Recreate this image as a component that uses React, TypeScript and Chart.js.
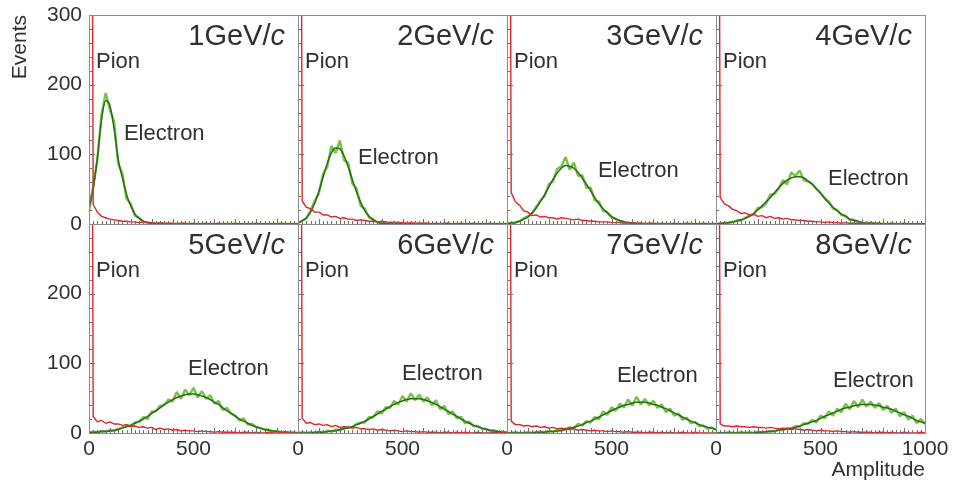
import { useEffect, useRef } from "react";
import { Chart, registerables } from "chart.js";

Chart.register(...registerables);

// ---------- data ----------
const AMPLITUDE = [0, 20, 40, 60, 80, 100, 120, 140, 160, 180, 200, 220, 240, 260, 280, 300, 320, 340, 360, 380, 400, 420, 440, 460, 480, 500, 520, 540, 560, 580, 600, 620, 640, 660, 680, 700, 720, 740, 760, 780, 800, 820, 840, 860, 880, 900, 920, 940, 960, 980, 1000];

const MOMENTUM_LABELS = ["1", "2", "3", "4", "5", "6", "7", "8"];

const ELECTRON_1 = [18, 55, 92, 158, 188, 164, 147, 86, 72, 36, 29, 12, 9, 3, 2, 1, 0, 1, 0, 0, 0, 0, 0, 0, 0, 0, 0, 0, 0, 0, 0, 0, 0, 0, 0, 0, 0, 0, 0, 0, 0, 0, 0, 0, 0, 0, 0, 0, 0, 0, 0];
const ELECTRON_2 = [1, 5, 8, 19, 33, 44, 72, 82, 112, 102, 120, 92, 88, 58, 51, 26, 22, 9, 7, 2, 2, 0, 1, 0, 0, 0, 0, 0, 0, 0, 0, 0, 0, 0, 0, 0, 0, 0, 0, 0, 0, 0, 0, 0, 0, 0, 0, 0, 0, 0, 0];
const ELECTRON_3 = [0, 2, 2, 4, 8, 11, 15, 25, 34, 40, 57, 61, 79, 83, 96, 78, 88, 69, 70, 52, 52, 34, 32, 19, 17, 9, 8, 4, 3, 1, 2, 0, 1, 0, 0, 0, 0, 0, 0, 0, 0, 0, 0, 0, 0, 0, 0, 0, 0, 0, 0];
const ELECTRON_4 = [0, 0, 2, 1, 3, 5, 5, 9, 12, 14, 23, 24, 30, 42, 43, 51, 63, 57, 74, 69, 77, 63, 61, 58, 50, 45, 37, 32, 22, 20, 13, 12, 6, 6, 3, 2, 1, 2, 0, 1, 0, 0, 0, 0, 0, 0, 0, 0, 0, 0, 0];
const ELECTRON_5 = [0, 2, 1, 3, 2, 4, 3, 6, 8, 11, 10, 15, 16, 23, 20, 31, 31, 39, 40, 48, 45, 59, 49, 62, 54, 65, 51, 60, 49, 54, 42, 46, 33, 36, 28, 25, 18, 21, 12, 13, 8, 7, 5, 5, 2, 3, 1, 1, 0, 1, 0];
const ELECTRON_6 = [0, 1, 0, 1, 0, 2, 1, 3, 2, 5, 4, 7, 9, 8, 13, 15, 15, 23, 22, 31, 28, 37, 36, 46, 41, 53, 45, 57, 47, 55, 45, 51, 40, 47, 34, 39, 27, 31, 21, 23, 14, 16, 10, 10, 6, 6, 3, 4, 1, 2, 0];
const ELECTRON_7 = [0, 0, 1, 0, 0, 1, 0, 1, 2, 1, 3, 2, 4, 3, 6, 8, 7, 13, 11, 17, 15, 23, 20, 31, 26, 37, 32, 42, 37, 48, 39, 52, 41, 49, 40, 46, 36, 41, 30, 35, 25, 28, 19, 22, 14, 16, 10, 11, 6, 8, 4];
const ELECTRON_8 = [0, 0, 0, 1, 0, 0, 1, 0, 1, 0, 2, 1, 1, 3, 2, 5, 4, 7, 6, 10, 9, 14, 13, 19, 15, 25, 21, 31, 25, 35, 30, 42, 34, 46, 37, 48, 38, 45, 36, 43, 33, 39, 29, 35, 24, 30, 19, 25, 14, 20, 13];

const FIT_1 = [22, 50, 95, 150, 177, 170, 137, 92, 66, 42, 26, 14, 8, 4, 2, 1, 0, 0, 0, 0, 0, 0, 0, 0, 0, 0, 0, 0, 0, 0, 0, 0, 0, 0, 0, 0, 0, 0, 0, 0, 0, 0, 0, 0, 0, 0, 0, 0, 0, 0, 0];
const FIT_2 = [2, 4, 9, 17, 30, 47, 67, 87, 102, 109, 108, 98, 82, 64, 46, 31, 19, 11, 6, 3, 1, 1, 0, 0, 0, 0, 0, 0, 0, 0, 0, 0, 0, 0, 0, 0, 0, 0, 0, 0, 0, 0, 0, 0, 0, 0, 0, 0, 0, 0, 0];
const FIT_3 = [1, 1, 2, 4, 7, 10, 16, 23, 32, 42, 53, 64, 73, 80, 84, 83, 80, 74, 66, 57, 48, 38, 29, 22, 16, 11, 7, 5, 3, 2, 1, 1, 0, 0, 0, 0, 0, 0, 0, 0, 0, 0, 0, 0, 0, 0, 0, 0, 0, 0, 0];
const FIT_4 = [0, 1, 1, 2, 3, 4, 6, 8, 11, 15, 20, 26, 32, 38, 45, 52, 58, 63, 66, 68, 68, 66, 62, 57, 51, 44, 37, 30, 24, 19, 14, 11, 7, 5, 4, 2, 1, 1, 1, 0, 0, 0, 0, 0, 0, 0, 0, 0, 0, 0, 0];
const FIT_5 = [1, 1, 1, 2, 2, 3, 4, 5, 7, 9, 11, 14, 17, 20, 24, 28, 32, 36, 41, 44, 48, 51, 53, 55, 56, 56, 55, 53, 51, 48, 44, 41, 36, 32, 28, 24, 20, 17, 14, 11, 9, 7, 5, 4, 3, 2, 1, 1, 1, 0, 0];
const FIT_6 = [0, 0, 0, 0, 1, 1, 1, 2, 3, 3, 5, 6, 7, 9, 12, 14, 17, 20, 24, 27, 31, 34, 38, 41, 44, 46, 48, 49, 49, 49, 48, 46, 44, 41, 38, 34, 31, 27, 24, 20, 17, 14, 11, 9, 7, 5, 4, 3, 2, 1, 1];
const FIT_7 = [0, 0, 0, 0, 0, 0, 0, 1, 1, 1, 2, 2, 3, 4, 5, 7, 8, 10, 12, 15, 17, 20, 23, 26, 29, 32, 35, 37, 40, 41, 43, 44, 44, 44, 43, 41, 40, 37, 35, 32, 29, 26, 23, 20, 17, 15, 12, 10, 8, 7, 5];
const FIT_8 = [0, 0, 0, 0, 0, 0, 0, 0, 0, 0, 1, 1, 2, 2, 3, 4, 5, 6, 7, 8, 10, 12, 14, 16, 18, 21, 24, 26, 29, 31, 34, 36, 37, 39, 40, 41, 41, 41, 40, 39, 37, 36, 34, 31, 29, 26, 24, 21, 18, 16, 14];

const PION_1 = [2000, 28, 17, 11, 9, 7, 6, 5, 4, 4, 3, 3, 2, 3, 2, 2, 1, 2, 1, 1, 1, 0, 1, 1, 0, 1, 0, 0, 1, 0, 0, 1, 0, 0, 0, 1, 0, 0, 0, 0, 1, 0, 0, 0, 0, 0, 1, 0, 0, 0, 0];
const PION_2 = [2000, 33, 24, 22, 17, 17, 13, 13, 10, 11, 8, 9, 7, 7, 5, 6, 5, 4, 4, 3, 4, 3, 2, 3, 2, 2, 1, 2, 1, 1, 1, 1, 0, 1, 0, 1, 1, 0, 0, 1, 0, 0, 1, 0, 0, 0, 1, 0, 0, 0, 0];
const PION_3 = [2000, 45, 32, 27, 19, 17, 12, 13, 10, 11, 9, 9, 7, 9, 8, 7, 6, 7, 5, 5, 4, 4, 3, 3, 3, 2, 2, 2, 1, 2, 1, 1, 1, 0, 1, 1, 0, 1, 0, 0, 1, 0, 0, 1, 0, 0, 0, 1, 0, 0, 0];
const PION_4 = [2000, 38, 29, 26, 21, 19, 15, 16, 13, 14, 11, 12, 9, 11, 8, 9, 7, 8, 6, 6, 5, 5, 4, 4, 3, 3, 2, 3, 2, 2, 1, 2, 1, 1, 1, 0, 1, 1, 0, 1, 0, 0, 1, 0, 0, 1, 0, 0, 0, 0, 0];
const PION_5 = [2000, 24, 16, 18, 14, 16, 13, 13, 11, 12, 9, 10, 8, 9, 7, 8, 5, 7, 5, 6, 4, 5, 3, 4, 3, 3, 2, 3, 2, 2, 1, 2, 1, 1, 1, 1, 0, 1, 1, 0, 1, 0, 0, 1, 0, 0, 0, 1, 0, 0, 0];
const PION_6 = [2000, 21, 14, 15, 12, 13, 11, 12, 9, 11, 8, 9, 8, 7, 8, 6, 6, 5, 6, 4, 5, 4, 3, 4, 3, 2, 3, 2, 2, 1, 2, 1, 1, 1, 0, 1, 1, 0, 1, 0, 1, 0, 0, 1, 0, 0, 0, 1, 0, 0, 0];
const PION_7 = [2000, 17, 12, 12, 10, 11, 9, 10, 8, 9, 7, 8, 6, 7, 6, 5, 6, 4, 5, 4, 3, 4, 3, 3, 2, 3, 2, 2, 1, 2, 1, 1, 1, 0, 1, 1, 0, 1, 0, 1, 0, 0, 1, 0, 0, 1, 0, 0, 0, 0, 0];
const PION_8 = [2000, 13, 10, 10, 9, 10, 9, 9, 8, 9, 8, 8, 7, 8, 7, 6, 7, 6, 5, 6, 5, 4, 5, 4, 3, 4, 3, 3, 2, 3, 2, 2, 1, 2, 1, 1, 1, 1, 0, 1, 1, 0, 1, 0, 0, 1, 0, 0, 0, 1, 0];

const ELECTRON = [ELECTRON_1, ELECTRON_2, ELECTRON_3, ELECTRON_4, ELECTRON_5, ELECTRON_6, ELECTRON_7, ELECTRON_8];
const FIT = [FIT_1, FIT_2, FIT_3, FIT_4, FIT_5, FIT_6, FIT_7, FIT_8];
const PION = [PION_1, PION_2, PION_3, PION_4, PION_5, PION_6, PION_7, PION_8];

// "Electron" label anchor in data units (amplitude, events)
const ELECTRON_LABEL_AT = [[167, 120], [287, 86], [435, 67], [536, 56], [474, 83], [498, 76], [526, 73], [560, 66]];

const Y_MAX = 300;
const X_MAX = 1000;

// ---------- layout ----------
const PLOT_LEFT = 89;
const PLOT_TOP = 15;
const PLOT_W = 209;
const PLOT_H = 209;
const M_LEFT = 89;
const M_TOP = 25;
const M_RIGHT = 40;
const FONT = "'Liberation Sans', Arial, Helvetica, sans-serif";
const TEXT = "#303030";

const toPoints = (vals: number[]) => AMPLITUDE.map((a, k) => ({ x: a, y: vals[k] ?? 0 }));

const decoPlugin = {
  id: "deco",
  afterDraw(chart: any, _args: any, opts: any) {
    const { ctx, chartArea: a, scales } = chart;
    const xs = scales.x;
    const ys = scales.y;
    ctx.save();
    // inward ticks
    ctx.strokeStyle = "#707070";
    ctx.lineWidth = 1;
    ctx.beginPath();
    for (let v = 0; v <= X_MAX; v += 20) {
      const px = Math.round(xs.getPixelForValue(v)) + 0.5;
      const len = v % 100 === 0 ? 5 : 3;
      ctx.moveTo(px, a.bottom);
      ctx.lineTo(px, a.bottom - len);
    }
    for (let v = 0; v <= Y_MAX; v += 20) {
      const py = Math.round(ys.getPixelForValue(v)) + 0.5;
      const len = v % 100 === 0 ? 6 : 3;
      ctx.moveTo(a.left, py);
      ctx.lineTo(a.left + len, py);
    }
    ctx.stroke();
    // frame
    ctx.strokeStyle = "#8c8c8c";
    ctx.strokeRect(a.left + 0.5, a.top + 0.5, a.right - a.left, a.bottom - a.top);

    ctx.fillStyle = TEXT;
    ctx.textBaseline = "alphabetic";
    // panel title  nGeV/c
    const right = a.right - 13;
    const base = a.top + 30;
    ctx.font = `italic 29px ${FONT}`;
    ctx.textAlign = "right";
    const cw = ctx.measureText("c").width;
    ctx.fillText("c", right, base);
    ctx.font = `29px ${FONT}`;
    ctx.fillText(`${opts.momentum}GeV/`, right - cw, base);
    // labels
    ctx.font = `22px ${FONT}`;
    ctx.textAlign = "left";
    ctx.fillText("Pion", a.left + 7, a.top + 53);
    const [ex, ey] = opts.electronAt;
    ctx.fillText("Electron", xs.getPixelForValue(ex), ys.getPixelForValue(ey));
    ctx.restore();
  },
};

function Panel({ index }: { index: number }) {
  const ref = useRef<HTMLCanvasElement>(null);
  const col = index % 4;
  const row = Math.floor(index / 4);
  const mBottom = row === 1 ? 53 : 40;
  const W = M_LEFT + PLOT_W + M_RIGHT;
  const H = M_TOP + PLOT_H + mBottom;
  const left = PLOT_LEFT + col * PLOT_W - M_LEFT;
  const top = PLOT_TOP + row * PLOT_H - M_TOP;

  useEffect(() => {
    const tickFont = { family: FONT, size: 21 };
    const chart = new Chart(ref.current as HTMLCanvasElement, {
      type: "line",
      data: {
        datasets: [
          {
            label: "Pion",
            data: toPoints(PION[index]),
            borderColor: "#e0262c",
            borderWidth: 1.4,
            borderJoinStyle: "bevel",
            pointRadius: 0,
            order: 0,
            clip: 0,
          },
          {
            label: "Electron fit",
            data: toPoints(FIT[index]),
            borderColor: "#2a6a1d",
            borderWidth: 1.5,
            pointRadius: 0,
            cubicInterpolationMode: "monotone",
            order: 1,
            clip: 0,
          },
          {
            label: "Electron",
            data: toPoints(ELECTRON[index]),
            borderColor: "#76c445",
            borderWidth: 2.4,
            borderJoinStyle: "bevel",
            pointRadius: 0,
            order: 2,
            clip: 0,
          },
        ],
      },
      options: {
        responsive: false,
        maintainAspectRatio: false,
        animation: false,
        events: [],
        layout: { padding: { left: 0, top: M_TOP, right: M_RIGHT, bottom: 0 } },
        plugins: {
          legend: { display: false },
          tooltip: { enabled: false },
          deco: { momentum: MOMENTUM_LABELS[index], electronAt: ELECTRON_LABEL_AT[index] },
        } as any,
        scales: {
          x: {
            type: "linear",
            min: 0,
            max: X_MAX,
            grid: { display: false, drawTicks: false },
            border: { display: false },
            ticks: {
              display: row === 1,
              stepSize: 500,
              padding: 4,
              maxRotation: 0,
              autoSkip: false,
              font: tickFont,
              color: TEXT,
              callback: (v: any) => (v === X_MAX && col < 3 ? "" : String(v)),
            },
            title: {
              display: row === 1 && col === 3,
              text: "Amplitude",
              align: "end",
              font: { family: FONT, size: 21 },
              color: TEXT,
              padding: { top: 0, bottom: 3 },
            },
            afterFit: (s: any) => {
              s.height = mBottom;
            },
          },
          y: {
            type: "linear",
            min: 0,
            max: Y_MAX,
            grid: { display: false, drawTicks: false },
            border: { display: false },
            ticks: {
              display: col === 0,
              stepSize: 100,
              padding: 7,
              font: tickFont,
              color: TEXT,
              callback: (v: any) => (row === 1 && v === Y_MAX ? "" : String(v)),
            },
            title: {
              display: row === 0 && col === 0,
              text: "Events",
              align: "end",
              font: { family: FONT, size: 21 },
              color: TEXT,
              padding: { top: 8, bottom: 0 },
            },
            afterFit: (s: any) => {
              s.width = M_LEFT;
            },
          },
        },
      } as any,
      plugins: [decoPlugin],
    });
    return () => chart.destroy();
  }, [index]);

  return (
    <canvas
      ref={ref}
      width={W}
      height={H}
      style={{ position: "absolute", left, top, width: W, height: H }}
    />
  );
}

export default function App() {
  return (
    <div
      style={{
        position: "fixed",
        left: 0,
        top: 0,
        width: 954,
        height: 486,
        background: "#ffffff",
        overflow: "hidden",
      }}
    >
      {[0, 1, 2, 3, 4, 5, 6, 7].map((i) => (
        <Panel key={i} index={i} />
      ))}
    </div>
  );
}
